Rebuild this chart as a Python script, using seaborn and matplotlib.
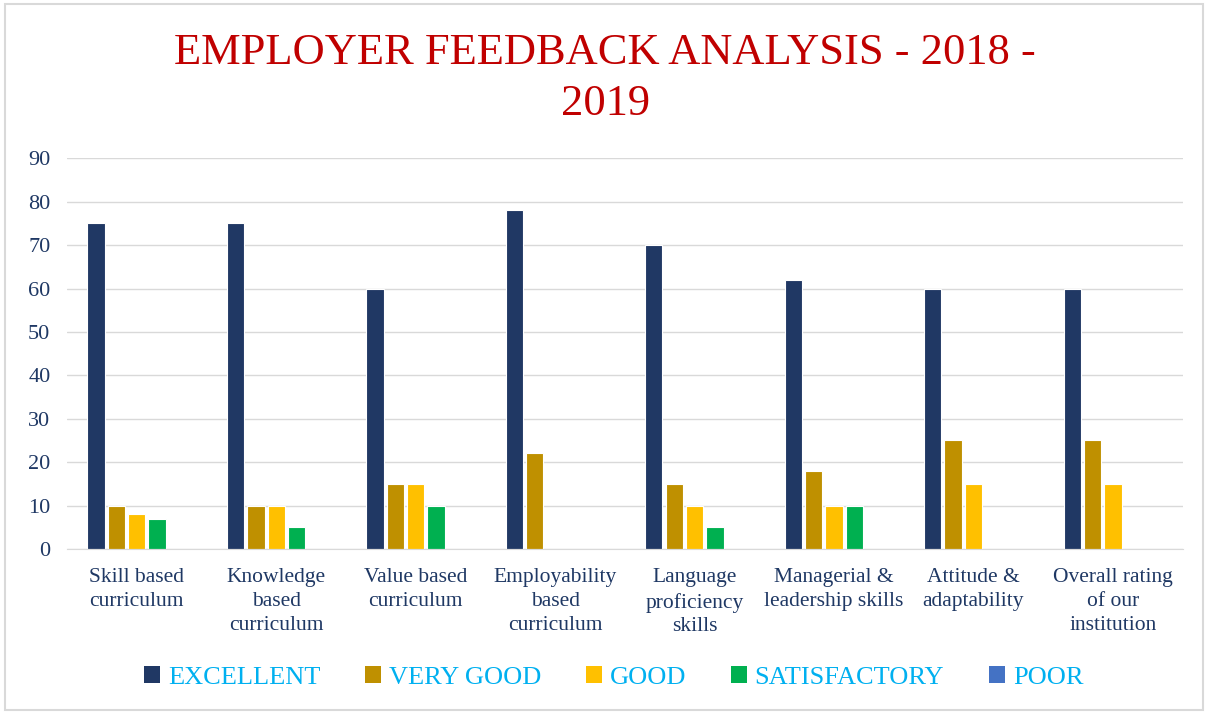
import pandas as pd
import matplotlib.pyplot as plt
import seaborn as sns
from matplotlib.patches import Rectangle, Patch

# 数据
categories = ["Skill based\ncurriculum", "Knowledge\nbased\ncurriculum", "Value based\ncurriculum",
              "Employability\nbased\ncurriculum", "Language\nproficiency\nskills",
              "Managerial &\nleadership skills", "Attitude &\nadaptability", "Overall rating\nof our\ninstitution"]
ratings = ["EXCELLENT", "VERY GOOD", "GOOD", "SATISFACTORY", "POOR"]
excellent = [75, 75, 60, 78, 70, 62, 60, 60]
very_good = [10, 10, 15, 22, 15, 18, 25, 25]
good = [8, 10, 15, 0, 10, 10, 15, 15]
satisfactory = [7, 5, 10, 0, 5, 10, 0, 0]
poor = [0, 0, 0, 0, 0, 0, 0, 0]
colors = ["#203864", "#BF9000", "#FFC000", "#00B050", "#4472C4"]

rows = []
for vals, r in zip([excellent, very_good, good, satisfactory, poor], ratings):
    for c, v in zip(categories, vals):
        rows.append({"category": c, "rating": r, "value": v})
df = pd.DataFrame(rows)

sns.set_style("white")
plt.rcParams["font.family"] = ["Liberation Serif", "DejaVu Serif"]

fig = plt.figure(figsize=(12.08, 7.13), dpi=100)
ax = fig.add_axes([0.0555, 0.230, 0.9235, 0.548])
sns.barplot(data=df, x="category", y="value", hue="rating", palette=colors, saturation=1,
            width=0.73, gap=0.15, ax=ax, legend=False, edgecolor="white", linewidth=0.8)

ax.set_ylim(0, 90)
ax.set_yticks(range(0, 91, 10))
ax.yaxis.grid(True, color="#D9D9D9", linewidth=1)
ax.set_axisbelow(True)
for s in ["top", "right", "left"]:
    ax.spines[s].set_visible(False)
ax.spines["bottom"].set_color("#D9D9D9")
ax.set_xlabel("")
ax.set_ylabel("")
ax.tick_params(axis="both", length=0, labelcolor="#1F3864", labelsize=16)
ax.tick_params(axis="x", labelsize=15.5, pad=14)
ax.tick_params(axis="y", pad=12)
for lab in ax.get_xticklabels():
    lab.set_linespacing(1.35)

fig.text(0.501, 0.89, "EMPLOYER FEEDBACK ANALYSIS - 2018 -\n2019", ha="center", va="center",
         fontsize=32, color="#C00000", linespacing=1.35)

handles = [Patch(facecolor=c, edgecolor="none") for c in colors]
leg = fig.legend(handles, ratings, loc="center", bbox_to_anchor=(0.508, 0.05), ncol=5, frameon=False,
                 fontsize=19, handlelength=0.6, handleheight=0.6, handletextpad=0.3, columnspacing=1.7)
for t in leg.get_texts():
    t.set_color("#00B0F0")

fig.patches.append(Rectangle((0.004, 0.004), 0.992, 0.99, transform=fig.transFigure,
                             fill=False, edgecolor="#D9D9D9", linewidth=1.5))

fig.savefig("out.png", dpi=100)
plt.close(fig)
